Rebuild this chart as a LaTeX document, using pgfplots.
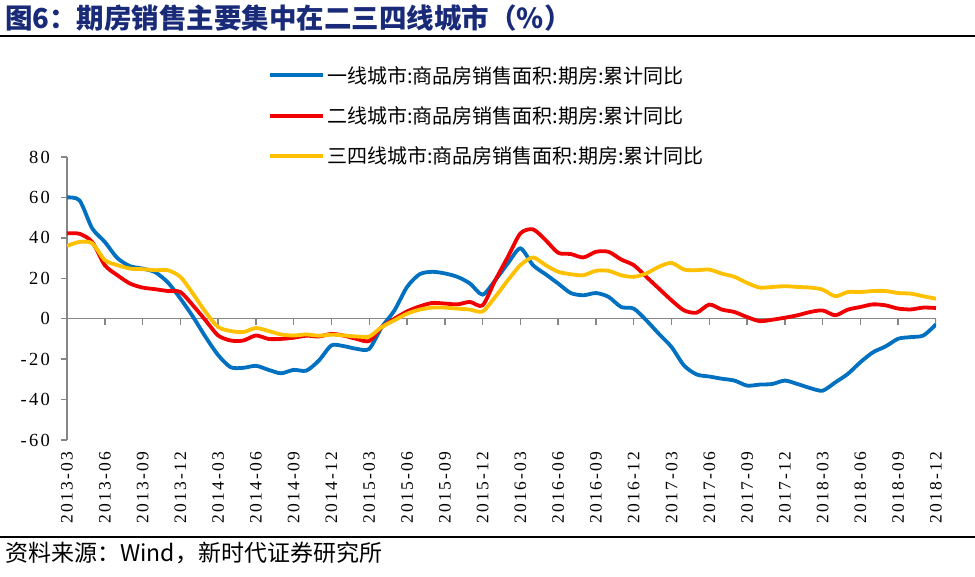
\documentclass[border=0pt]{standalone}
\usepackage{fontspec}
\setmainfont{Liberation Serif}
\newfontfamily\cjk{Noto Sans CJK SC}
\newfontfamily\tickfont[LetterSpace=12]{Liberation Serif}
\usepackage{pgfplots}
\pgfplotsset{compat=1.18}
\usepackage{pgfplotstable}

\definecolor{lineblue}{RGB}{0,112,192}
\definecolor{linered}{RGB}{240,0,0}
\definecolor{lineyellow}{RGB}{255,192,0}
\definecolor{axisgray}{RGB}{134,134,134}
\definecolor{titlenavy}{RGB}{24,42,120}

% m = months since 2013-03; a = tier 1, b = tier 2, c = tier 3/4
\pgfplotstableread{
m  a      b      c
0  60     42.2   36
1  58.5   42     38
2  44.7   38     37.3
3  38     26.5   29
4  30     21.5   26.5
5  26     17.4   24.8
6  24.8   15.4   24.5
7  23     14.6   24
8  18     13.7   24
9  10     13.2   20.7
10 1      6.6    12.4
11 -9     -0.8   3.3
12 -18    -8.3   -4.1
13 -24    -10.8  -6.1
14 -24.3  -10.8  -6.6
15 -23.3  -8.3   -4.6
16 -25.3  -10    -6.1
17 -27    -10    -7.8
18 -25.3  -9.4   -8.3
19 -25.7  -8.4   -7.8
20 -20.7  -8.8   -8.4
21 -13.2  -7.5   -7.9
22 -13.6  -8.4   -8.3
23 -14.9  -10    -8.8
24 -14.9  -11    -8.8
25 -4.1   -4.1   -4.1
26 4.1    0      -0.8
27 15.7   3.6    2.5
28 22     6.1    4.5
29 23.2   7.8    5.5
30 22.4   7.5    5.5
31 20.7   7.1    5
32 17.4   8.3    4.5
33 11.9   6.6    3.6
34 19     19     10.8
35 27.3   30.5   19
36 34.8   42.2   26.5
37 26.5   44.2   30.3
38 22     38.9   26.5
39 17.4   32.6   23.2
40 12.7   32     22
41 11.6   30.3   21.5
42 12.7   33.1   23.7
43 10.8   33.1   23.7
44 5.8    29.3   21.5
45 5      26.5   20.7
46 -0.8   20.7   22.4
47 -7.5   14.9   25.7
48 -14    9.1    27.6
49 -23.2  4.1    24.3
50 -27.6  3      24
51 -28.6  7      24.3
52 -29.7  4.5    22.3
53 -30.6  3.3    20.7
54 -33.1  0.8    17.7
55 -32.6  -1.2   15.4
56 -32.3  -0.5   15.7
57 -30.6  0.5    16.1
58 -32.3  1.7    15.7
59 -34.3  3.3    15.4
60 -35.6  4.1    14.4
61 -31.5  1.7    11.1
62 -27.3  4.5    13.2
63 -21.5  5.8    13.2
64 -16.6  7.1    13.7
65 -13.7  6.6    13.7
66 -9.9   5      12.7
67 -9.1   4.6    12.4
68 -8.3   5.5    11.1
69 -2.8   5.3    9.9
}\datatable

\begin{document}
\begin{tikzpicture}
\path[use as bounding box] (-67pt,-137pt) rectangle (908pt,440pt);

\node[anchor=west, inner sep=0pt, text=titlenavy, font=\cjk\bfseries\fontsize{27.5}{32}\selectfont]
  at (-62pt,422pt) {图6：期房销售主要集中在二三四线城市（\%）};
\draw[black, line width=1.5pt] (-67pt,404pt) -- (908pt,404pt);
\draw[black, line width=1.5pt] (-67pt,-97pt) -- (908pt,-97pt);
\node[anchor=west, inner sep=0pt, font=\cjk\fontsize{23}{27}\selectfont]
  at (-62pt,-113pt) {资料来源：Wind，新时代证券研究所};

\begin{axis}[
  at={(0,0)}, anchor=south west,
  scale only axis, width=869pt, height=283pt,
  xmin=0, xmax=69, ymin=-60, ymax=80,
  axis lines=left,
  axis line style={-, draw=axisgray, line width=1.5pt},
  x axis line style={draw=none},
  xtick={0,3,...,69},
  xticklabels={2013-03,2013-06,2013-09,2013-12,2014-03,2014-06,2014-09,2014-12,
    2015-03,2015-06,2015-09,2015-12,2016-03,2016-06,2016-09,2016-12,
    2017-03,2017-06,2017-09,2017-12,2018-03,2018-06,2018-09,2018-12},
  xtick style={draw=none},
  xtick align=inside,
  xticklabel style={font=\tickfont\fontsize{17.5}{17.5}\selectfont, rotate=90, anchor=east, inner sep=0pt},
  xticklabel shift=12pt,
  ytick={-60,-40,...,80},
  ytick align=outside,
  major tick length=6pt,
  ytick style={draw=axisgray, line width=1.5pt},
  yticklabel style={font=\tickfont\fontsize{18.5}{18.5}\selectfont, inner sep=0pt},
  yticklabel shift=11pt,
  /pgf/number format/assume math mode=true,
  legend cell align=left,
  legend style={at={(axis description cs:0.228,1.336)}, anchor=north west,
    draw=none, fill=none, row sep=18pt,
    font=\cjk\fontsize{20}{24}\selectfont,
    /tikz/every even column/.append style={column sep=7pt}},
  legend image code/.code={\draw[#1] (0pt,0pt) -- (53pt,0pt);},
  every axis plot/.append style={line width=3.8pt, smooth, tension=0.45},
]
\draw[axisgray, line width=1.5pt] (axis cs:0,0) -- (axis cs:69,0);
\pgfplotsinvokeforeach{3,6,...,69}{
  \draw[axisgray, line width=1.5pt] (axis cs:#1,0) -- ++(0pt,-6pt);
}
\addplot[lineblue] table[x=m, y=a] {\datatable};
\addlegendentry{一线城市:商品房销售面积:期房:累计同比}
\addplot[linered] table[x=m, y=b] {\datatable};
\addlegendentry{二线城市:商品房销售面积:期房:累计同比}
\addplot[lineyellow] table[x=m, y=c] {\datatable};
\addlegendentry{三四线城市:商品房销售面积:期房:累计同比}
\end{axis}
\end{tikzpicture}
\end{document}
